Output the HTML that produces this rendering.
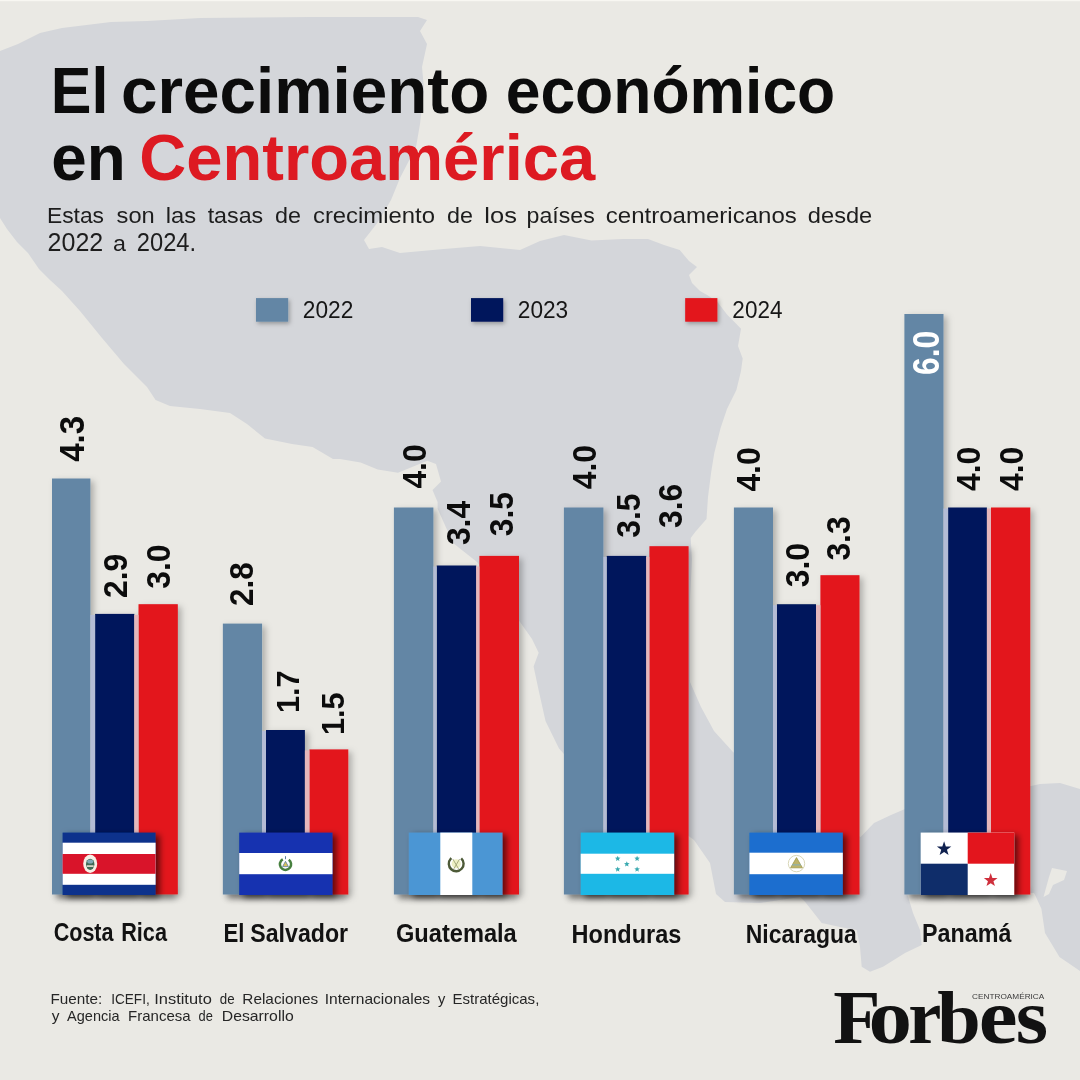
<!DOCTYPE html>
<html lang="es"><head><meta charset="utf-8"><title>El crecimiento económico en Centroamérica</title>
<style>html,body{margin:0;padding:0;background:#eae9e4;}body{width:1080px;height:1080px;overflow:hidden;position:relative;}svg{position:absolute;left:0;top:0;display:block}text{font-family:"Liberation Sans",sans-serif;}.b{font-weight:bold}.serif{font-family:"Liberation Serif",serif;font-weight:bold}</style>
</head><body>
<svg width="1080" height="1080" viewBox="0 0 1080 1080">
<defs>
<filter id="sh" x="-30%" y="-10%" width="180%" height="130%"><feDropShadow dx="3.5" dy="2.5" stdDeviation="3" flood-color="#000" flood-opacity="0.26"/></filter>
<filter id="shf" x="-20%" y="-20%" width="150%" height="150%"><feDropShadow dx="4" dy="2.5" stdDeviation="3.2" flood-color="#000" flood-opacity="0.6"/></filter>
<filter id="shl" x="-30%" y="-30%" width="170%" height="170%"><feDropShadow dx="1.5" dy="2" stdDeviation="2" flood-color="#000" flood-opacity="0.3"/></filter>
<filter id="blur" x="-10%" y="-200%" width="120%" height="500%"><feGaussianBlur stdDeviation="3"/></filter>
</defs>
<rect width="1080" height="1080" fill="#eae9e4"/>
<rect width="1080" height="1.2" fill="#f8f7f2"/>
<!--MAP-->
<path fill="#d4d6da" d="M0 51 L18 44 L40 33 L62 28 L111 22 L147 21 L200 18 L311 17 L418 17 L427 20 L420 31 L427 44 L422 67 L424 89 L420 124 L416 147 L400 178 L391 200 L378 222 L364 240 L369 249 L382 247 L400 253 L444 249 L480 246 L520 250 L540 241 L564 235 L591.5 240.5 L623 239 L648 239 L664 245 L679.7 250 L689 261 L697 267 L689 275 L692 283 L700 291 L708 295.6 L717.5 302 L727 314.5 L736.4 324 L741 328.7 L738 346 L742.7 358.6 L741 371 L736.4 390 L727 409 L720.6 428 L714.3 453 L711.2 472 L708 497 L706.5 519 L695.4 531.8 L690.7 538 L692 560 L690 600 L690 682 L701 707 L714 731 L733 752 L780 790 L830 820 L860.5 837 L874 823 L891 815 L905 809 L960 790 L1031 786 L1040 784 L1060 783 L1080 789 L1080 971 L1059.5 957 L1045 933 L1041.4 908.7 L1036 897 L1034 893 L907 893 L913 913 L920 930 L921.7 945 L905 953 L883 966.7 L870 971.7 L861.7 966.7 L860 946.7 L856.7 930 L840 927 L821.7 923 L805 901.7 L800 897 L760 903 L725 902 L716 894 L710 863 L694 840 L640 800 L600 775 L564 754 L559 748.6 L545.5 721 L538.7 690.4 L533.6 666.4 L538.7 652.7 L532 639 L520 622 L500 590 L477 562 L453 543 L437.6 508.8 L437.6 502 L432.5 490 L441 481.4 L436 464 L427.4 460.8 L398 472.8 L377.7 469.4 L360.6 462.5 L340 459 L333 459 L312.6 447 L292 444 L265 438.5 L247 424 L230 413 L200 409 L170 406 L155.6 400 L147 387 L124 364 L102 338 L80 311 L62 291 L50 280 L39 269 L28 253 L17 242 L7 229 L0 218 Z"/>
<path fill="#eae9e4" d="M1052 868 L1067 871 L1064 880 L1053 885 L1049 894 L1043.5 897 L1049 877 Z"/>
<!--/MAP-->
<text class="b" y="112.6" font-size="64.4" fill="#0c0c0c"><tspan x="50.84" textLength="57.62" lengthAdjust="spacingAndGlyphs">El</tspan> <tspan x="121.14" textLength="368.08" lengthAdjust="spacingAndGlyphs">crecimiento</tspan> <tspan x="505.66" textLength="329.58" lengthAdjust="spacingAndGlyphs">económico</tspan></text>
<text class="b" y="179.5" font-size="64.4" fill="#0c0c0c"><tspan x="51.21" textLength="74.45" lengthAdjust="spacingAndGlyphs">en</tspan> <tspan x="139.30" fill="#dd1a22" textLength="455.86" lengthAdjust="spacingAndGlyphs">Centroamérica</tspan></text>
<text y="223.4" font-size="22.5" fill="#1d1d1d"><tspan x="46.98" textLength="57.05" lengthAdjust="spacingAndGlyphs">Estas</tspan> <tspan x="116.55" textLength="38.19" lengthAdjust="spacingAndGlyphs">son</tspan> <tspan x="165.65" textLength="30.40" lengthAdjust="spacingAndGlyphs">las</tspan> <tspan x="207.65" textLength="55.57" lengthAdjust="spacingAndGlyphs">tasas</tspan> <tspan x="275.07" textLength="25.98" lengthAdjust="spacingAndGlyphs">de</tspan> <tspan x="312.99" textLength="121.98" lengthAdjust="spacingAndGlyphs">crecimiento</tspan> <tspan x="447.07" textLength="25.98" lengthAdjust="spacingAndGlyphs">de</tspan> <tspan x="484.34" textLength="32.57" lengthAdjust="spacingAndGlyphs">los</tspan> <tspan x="526.55" textLength="68.23" lengthAdjust="spacingAndGlyphs">países</tspan> <tspan x="605.78" textLength="191.09" lengthAdjust="spacingAndGlyphs">centroamericanos</tspan> <tspan x="807.85" textLength="64.40" lengthAdjust="spacingAndGlyphs">desde</tspan></text>
<text y="251.4" font-size="25" fill="#1d1d1d"><tspan x="47.55" textLength="55.70" lengthAdjust="spacingAndGlyphs">2022</tspan> <tspan x="113.01" font-size="22.8" textLength="12.96" lengthAdjust="spacingAndGlyphs">a</tspan> <tspan x="136.81" textLength="59.32" lengthAdjust="spacingAndGlyphs">2024.</tspan></text>
<rect x="256" y="298.1" width="32.2" height="23.6" fill="#6386a5" filter="url(#shl)"/>
<text x="302.76" y="318" font-size="23.4" fill="#161616" textLength="50.57" lengthAdjust="spacingAndGlyphs">2022</text>
<rect x="471" y="298.1" width="32.2" height="23.6" fill="#05165b" filter="url(#shl)"/>
<text x="517.77" y="318" font-size="23.4" fill="#161616" textLength="50.45" lengthAdjust="spacingAndGlyphs">2023</text>
<rect x="685.2" y="298.1" width="32.2" height="23.6" fill="#e3151d" filter="url(#shl)"/>
<text x="732.37" y="318" font-size="23.4" fill="#161616" textLength="50.09" lengthAdjust="spacingAndGlyphs">2024</text>
<rect x="57" y="890" width="118.8" height="9" fill="#000" opacity="0.36" filter="url(#blur)"/>
<rect x="227.85" y="890" width="118.45" height="9" fill="#000" opacity="0.36" filter="url(#blur)"/>
<rect x="398.9" y="890" width="118.1" height="9" fill="#000" opacity="0.36" filter="url(#blur)"/>
<rect x="568.9" y="890" width="117.7" height="9" fill="#000" opacity="0.36" filter="url(#blur)"/>
<rect x="738.9" y="890" width="118.6" height="9" fill="#000" opacity="0.36" filter="url(#blur)"/>
<rect x="909.4" y="890" width="118.9" height="9" fill="#000" opacity="0.36" filter="url(#blur)"/>
<rect x="52" y="478.5" width="38.4" height="416.0" fill="#6386a5" filter="url(#sh)"/>
<rect x="95.1" y="613.9" width="39.2" height="280.6" fill="#05165b" filter="url(#sh)"/>
<rect x="138.5" y="604.2" width="39.3" height="290.2" fill="#e3151d" filter="url(#sh)"/>
<rect x="90.4" y="614.9" width="4.7" height="279.6" fill="#b4bcd5"/>
<rect x="134.3" y="614.9" width="4.2" height="279.6" fill="#e5b7bb"/>
<rect x="222.85" y="623.6" width="39.25" height="270.9" fill="#6386a5" filter="url(#sh)"/>
<rect x="266" y="730.0" width="38.9" height="164.5" fill="#05165b" filter="url(#sh)"/>
<rect x="309.4" y="749.4" width="38.9" height="145.1" fill="#e3151d" filter="url(#sh)"/>
<rect x="262.1" y="731.0" width="3.9" height="163.5" fill="#b4bcd5"/>
<rect x="304.9" y="750.4" width="4.5" height="144.1" fill="#e5b7bb"/>
<rect x="393.9" y="507.5" width="39.5" height="387.0" fill="#6386a5" filter="url(#sh)"/>
<rect x="436.7" y="565.5" width="39.5" height="329.0" fill="#05165b" filter="url(#sh)"/>
<rect x="479.4" y="555.9" width="39.6" height="338.6" fill="#e3151d" filter="url(#sh)"/>
<rect x="433.4" y="566.5" width="3.3" height="328.0" fill="#b4bcd5"/>
<rect x="476.2" y="566.5" width="3.2" height="328.0" fill="#e5b7bb"/>
<rect x="563.9" y="507.5" width="39.5" height="387.0" fill="#6386a5" filter="url(#sh)"/>
<rect x="606.7" y="555.9" width="39.5" height="338.6" fill="#05165b" filter="url(#sh)"/>
<rect x="649.4" y="546.2" width="39.2" height="348.3" fill="#e3151d" filter="url(#sh)"/>
<rect x="603.4" y="556.9" width="3.3" height="337.6" fill="#b4bcd5"/>
<rect x="646.2" y="556.9" width="3.2" height="337.6" fill="#e5b7bb"/>
<rect x="733.9" y="507.5" width="39.1" height="387.0" fill="#6386a5" filter="url(#sh)"/>
<rect x="776.9" y="604.2" width="39.1" height="290.2" fill="#05165b" filter="url(#sh)"/>
<rect x="820.4" y="575.2" width="39.1" height="319.3" fill="#e3151d" filter="url(#sh)"/>
<rect x="773" y="605.2" width="3.9" height="289.2" fill="#b4bcd5"/>
<rect x="816" y="605.2" width="4.4" height="289.2" fill="#e5b7bb"/>
<rect x="904.4" y="314.0" width="39.1" height="580.5" fill="#6386a5" filter="url(#sh)"/>
<rect x="948.1" y="507.5" width="38.8" height="387.0" fill="#05165b" filter="url(#sh)"/>
<rect x="991" y="507.5" width="39.3" height="387.0" fill="#e3151d" filter="url(#sh)"/>
<rect x="943.5" y="508.5" width="4.6" height="386.0" fill="#b4bcd5"/>
<rect x="986.9" y="508.5" width="4.1" height="386.0" fill="#e5b7bb"/>
<text class="b" font-size="34.77" fill="#0c0c0c" transform="translate(83.55 461.80) rotate(-90)" textLength="45.92" lengthAdjust="spacingAndGlyphs">4.3</text>
<text class="b" font-size="33.50" fill="#0c0c0c" transform="translate(127.07 598.03) rotate(-90)" textLength="44.24" lengthAdjust="spacingAndGlyphs">2.9</text>
<text class="b" font-size="33.50" fill="#0c0c0c" transform="translate(170.07 588.82) rotate(-90)" textLength="44.24" lengthAdjust="spacingAndGlyphs">3.0</text>
<text class="b" font-size="33.07" fill="#0c0c0c" transform="translate(253.47 605.92) rotate(-90)" textLength="43.68" lengthAdjust="spacingAndGlyphs">2.8</text>
<text class="b" font-size="32.23" fill="#0c0c0c" transform="translate(298.68 713.11) rotate(-90)" textLength="42.56" lengthAdjust="spacingAndGlyphs">1.7</text>
<text class="b" font-size="32.23" fill="#0c0c0c" transform="translate(344.18 735.11) rotate(-90)" textLength="42.56" lengthAdjust="spacingAndGlyphs">1.5</text>
<text class="b" font-size="33.50" fill="#0c0c0c" transform="translate(425.57 488.58) rotate(-90)" textLength="44.24" lengthAdjust="spacingAndGlyphs">4.0</text>
<text class="b" font-size="33.50" fill="#0c0c0c" transform="translate(470.07 545.12) rotate(-90)" textLength="44.24" lengthAdjust="spacingAndGlyphs">3.4</text>
<text class="b" font-size="33.50" fill="#0c0c0c" transform="translate(512.97 536.32) rotate(-90)" textLength="44.24" lengthAdjust="spacingAndGlyphs">3.5</text>
<text class="b" font-size="33.50" fill="#0c0c0c" transform="translate(595.67 489.18) rotate(-90)" textLength="44.24" lengthAdjust="spacingAndGlyphs">4.0</text>
<text class="b" font-size="33.50" fill="#0c0c0c" transform="translate(640.37 537.72) rotate(-90)" textLength="44.24" lengthAdjust="spacingAndGlyphs">3.5</text>
<text class="b" font-size="33.50" fill="#0c0c0c" transform="translate(682.47 528.02) rotate(-90)" textLength="44.24" lengthAdjust="spacingAndGlyphs">3.6</text>
<text class="b" font-size="33.50" fill="#0c0c0c" transform="translate(759.67 491.58) rotate(-90)" textLength="44.24" lengthAdjust="spacingAndGlyphs">4.0</text>
<text class="b" font-size="33.50" fill="#0c0c0c" transform="translate(808.57 587.22) rotate(-90)" textLength="44.24" lengthAdjust="spacingAndGlyphs">3.0</text>
<text class="b" font-size="33.50" fill="#0c0c0c" transform="translate(850.07 560.62) rotate(-90)" textLength="44.24" lengthAdjust="spacingAndGlyphs">3.3</text>
<text class="b" font-size="37.46" fill="#fff" transform="translate(939.23 375.01) rotate(-90)" textLength="44.26" lengthAdjust="spacingAndGlyphs">6.0</text>
<text class="b" font-size="33.50" fill="#0c0c0c" transform="translate(980.37 490.98) rotate(-90)" textLength="44.24" lengthAdjust="spacingAndGlyphs">4.0</text>
<text class="b" font-size="33.50" fill="#0c0c0c" transform="translate(1023.37 490.98) rotate(-90)" textLength="44.24" lengthAdjust="spacingAndGlyphs">4.0</text>
<!--FLAGS-->
<g filter="url(#shf)"><rect x="62.60" y="832.60" width="93.00" height="62.40" fill="#10308c"/></g>
<rect x="62.60" y="842.70" width="93.00" height="42.10" fill="#ffffff"/>
<rect x="62.60" y="854.00" width="93.00" height="19.80" fill="#d9142a"/>
<ellipse cx="90.2" cy="863.8" rx="7" ry="9.2" fill="#f6efe6"/><ellipse cx="90.2" cy="864.3" rx="4.2" ry="5.6" fill="#3f6a55"/><ellipse cx="90.2" cy="861.5" rx="3" ry="2" fill="#7fa9b8"/><rect x="86.8" y="865.3" width="6.8" height="1.6" fill="#e8e2d4"/>
<g filter="url(#shf)"><rect x="239.20" y="832.60" width="93.30" height="62.40" fill="#1533b0"/></g>
<rect x="239.20" y="853.00" width="93.30" height="21.20" fill="#ffffff"/>
<circle cx="285.5" cy="864.3" r="5.6" fill="none" stroke="#47803f" stroke-width="2.5" stroke-dasharray="28.2 7" transform="rotate(-54 285.5 864.3)"/><path d="M282.6 866.6 L285.5 861.3 L288.4 866.6 Z" fill="#d9c35a" stroke="#5a7fa0" stroke-width="0.8"/><rect x="285" y="856.2" width="1" height="3" fill="#5a7fa0"/>
<g filter="url(#shf)"><rect x="408.80" y="832.60" width="93.70" height="62.40" fill="#4b96d4"/></g>
<rect x="440.30" y="832.60" width="32.00" height="62.40" fill="#ffffff"/>
<circle cx="456.2" cy="863.8" r="4.6" fill="#eef0c4"/><circle cx="456.2" cy="863.8" r="7.4" fill="none" stroke="#4d5a38" stroke-width="2.4" stroke-dasharray="35.5 11" transform="rotate(-47.4 456.2 863.8)"/><path d="M453.4 869.6 L459.6 859 M459 869.6 L452.8 859" stroke="#7d8254" stroke-width="0.9" opacity=".7"/>
<g filter="url(#shf)"><rect x="580.70" y="832.60" width="93.40" height="62.40" fill="#1ab8e6"/></g>
<rect x="580.70" y="853.70" width="93.40" height="20.10" fill="#ffffff"/>
<polygon points="617.70,855.70 618.46,857.55 620.46,857.70 618.94,859.00 619.40,860.95 617.70,859.90 616.00,860.95 616.46,859.00 614.94,857.70 616.94,857.55" fill="#3aaab0"/>
<polygon points="637.10,855.70 637.86,857.55 639.86,857.70 638.34,859.00 638.80,860.95 637.10,859.90 635.40,860.95 635.86,859.00 634.34,857.70 636.34,857.55" fill="#3aaab0"/>
<polygon points="626.80,861.20 627.56,863.05 629.56,863.20 628.04,864.50 628.50,866.45 626.80,865.40 625.10,866.45 625.56,864.50 624.04,863.20 626.04,863.05" fill="#3aaab0"/>
<polygon points="617.70,866.40 618.46,868.25 620.46,868.40 618.94,869.70 619.40,871.65 617.70,870.60 616.00,871.65 616.46,869.70 614.94,868.40 616.94,868.25" fill="#3aaab0"/>
<polygon points="637.10,866.40 637.86,868.25 639.86,868.40 638.34,869.70 638.80,871.65 637.10,870.60 635.40,871.65 635.86,869.70 634.34,868.40 636.34,868.25" fill="#3aaab0"/>
<g filter="url(#shf)"><rect x="749.40" y="832.60" width="93.40" height="62.40" fill="#1a6ecf"/></g>
<rect x="749.40" y="852.70" width="93.40" height="21.50" fill="#ffffff"/>
<circle cx="796.5" cy="863.6" r="8.2" fill="none" stroke="#d9d7b8" stroke-width="1"/><path d="M790.6 867.8 L796.5 857.6 L802.4 867.8 Z" fill="#bdb36a" stroke="#a09848" stroke-width="0.8"/><rect x="792" y="864.2" width="9" height="1.3" fill="#8fb0a8"/>
<g filter="url(#shf)"><rect x="920.70" y="832.60" width="93.40" height="62.40" fill="#ffffff"/></g>
<rect x="967.70" y="832.60" width="46.40" height="31.10" fill="#e3151d"/>
<rect x="920.70" y="863.70" width="47.00" height="31.30" fill="#0f2d6a"/>
<polygon points="944.10,841.30 945.86,846.47 951.33,846.55 946.95,849.83 948.57,855.05 944.10,851.90 939.63,855.05 941.25,849.83 936.87,846.55 942.34,846.47" fill="#10214f"/>
<polygon points="990.70,873.10 992.40,877.95 997.55,878.08 993.46,881.20 994.93,886.12 990.70,883.20 986.47,886.12 987.94,881.20 983.85,878.08 989.00,877.95" fill="#cf2f3c"/>
<!--/FLAGS-->
<text class="b" y="941" font-size="24.9" fill="#121212"><tspan x="53.64" textLength="59.92" lengthAdjust="spacingAndGlyphs">Costa</tspan> <tspan x="121.19" textLength="45.80" lengthAdjust="spacingAndGlyphs">Rica</tspan></text>
<text class="b" y="941.5" font-size="24.9" fill="#121212"><tspan x="223.46" textLength="21.00" lengthAdjust="spacingAndGlyphs">El</tspan> <tspan x="250.26" textLength="97.87" lengthAdjust="spacingAndGlyphs">Salvador</tspan></text>
<text class="b" x="395.96" y="941.6" font-size="24.9" fill="#121212" textLength="120.79" lengthAdjust="spacingAndGlyphs">Guatemala</text>
<text class="b" x="571.57" y="942.6" font-size="24.9" fill="#121212" textLength="109.76" lengthAdjust="spacingAndGlyphs">Honduras</text>
<text class="b" x="745.71" y="943.1" font-size="24.9" fill="#121212" textLength="111.03" lengthAdjust="spacingAndGlyphs">Nicaragua</text>
<text class="b" x="921.98" y="941.5" font-size="24.9" fill="#121212" textLength="89.41" lengthAdjust="spacingAndGlyphs">Panamá</text>
<text y="1003.8" font-size="15" fill="#262626"><tspan x="50.48" textLength="51.82" lengthAdjust="spacingAndGlyphs">Fuente:</tspan> <tspan x="111.18" textLength="38.53" lengthAdjust="spacingAndGlyphs">ICEFI,</tspan> <tspan x="154.22" textLength="57.57" lengthAdjust="spacingAndGlyphs">Instituto</tspan> <tspan x="219.77" textLength="14.83" lengthAdjust="spacingAndGlyphs">de</tspan> <tspan x="242.37" textLength="75.86" lengthAdjust="spacingAndGlyphs">Relaciones</tspan> <tspan x="324.70" textLength="105.44" lengthAdjust="spacingAndGlyphs">Internacionales</tspan> <tspan x="437.96" textLength="7.34" lengthAdjust="spacingAndGlyphs">y</tspan> <tspan x="452.50" textLength="86.82" lengthAdjust="spacingAndGlyphs">Estratégicas,</tspan></text>
<text y="1021.1" font-size="15" fill="#262626"><tspan x="51.66" textLength="7.74" lengthAdjust="spacingAndGlyphs">y</tspan> <tspan x="67.10" textLength="52.48" lengthAdjust="spacingAndGlyphs">Agencia</tspan> <tspan x="128.10" textLength="62.48" lengthAdjust="spacingAndGlyphs">Francesa</tspan> <tspan x="198.59" textLength="14.29" lengthAdjust="spacingAndGlyphs">de</tspan> <tspan x="221.84" textLength="71.83" lengthAdjust="spacingAndGlyphs">Desarrollo</tspan></text>
<text class="serif" y="1042.8" fill="#121212"><tspan x="833.24" font-size="76" textLength="47.20" lengthAdjust="spacingAndGlyphs">F</tspan><tspan x="868.64" font-size="79" textLength="43.53" lengthAdjust="spacingAndGlyphs">o</tspan><tspan x="908.13" font-size="79" textLength="33.16" lengthAdjust="spacingAndGlyphs">r</tspan><tspan x="937.32" font-size="74.6" textLength="43.50" lengthAdjust="spacingAndGlyphs">b</tspan><tspan x="978.86" font-size="79" textLength="38.83" lengthAdjust="spacingAndGlyphs">e</tspan><tspan x="1015.81" font-size="79" textLength="32.30" lengthAdjust="spacingAndGlyphs">s</tspan></text>
<text x="972.09" y="998.9" font-size="7.8" fill="#3a3a3a" textLength="72.22" lengthAdjust="spacingAndGlyphs">CENTROAMÉRICA</text>
</svg>
</body></html>
